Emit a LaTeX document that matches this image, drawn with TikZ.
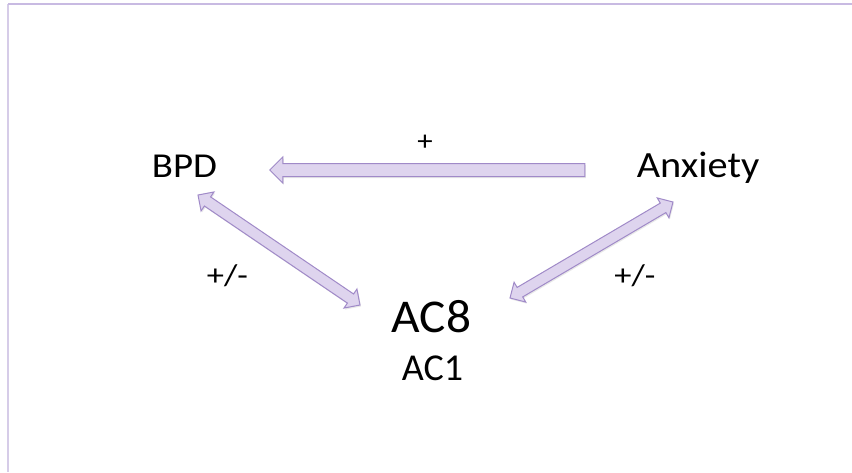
\documentclass[tikz,border=0pt]{standalone}
\usepackage{fontspec}
\setmainfont{Carlito}
\usetikzlibrary{shapes.arrows,calc,shadows}
\definecolor{arrowfill}{RGB}{222,212,238}
\definecolor{arrowline}{RGB}{160,138,200}
\definecolor{frametop}{RGB}{200,186,226}
\definecolor{frameleft}{RGB}{214,204,232}
\tikzset{
  lbl/.style={anchor=base, inner sep=0pt, text=black},
  arrowbase/.style={draw=arrowline, fill=arrowfill, line width=1pt, inner xsep=0pt,
    drop shadow={opacity=0.18, shadow xshift=1pt, shadow yshift=-1.5pt}},
  onearrow/.style={arrowbase, single arrow, inner ysep=6pt, single arrow head extend=6.5pt},
  twoarrow/.style={arrowbase, double arrow, inner ysep=5pt, double arrow head extend=6pt},
}
\begin{document}
\begin{tikzpicture}[x=1pt,y=-1pt]
\useasboundingbox (0,0) rectangle (852,472);
\fill[white] (0,0) rectangle (852,472);
\draw[frameleft, line width=1.3pt] (8,4) -- (8,472);
\draw[frametop, line width=1.5pt] (8,4) -- (852,4);

\node[lbl, font=\fontsize{35}{40}\selectfont] (bpd) at (184.5,177) {\scalebox{1.11}[1]{BPD}};
\node[lbl, font=\fontsize{37}{42}\selectfont] (anx) at (698,177) {\scalebox{1.09}[1]{Anxiety}};
\node[lbl, font=\fontsize{47}{52}\selectfont] (ac8) at (431.5,332) {\scalebox{1.05}[1]{AC8}};
\node[lbl, font=\fontsize{38}{42}\selectfont] (ac1) at (432.5,380) {AC1};
\node[lbl, font=\fontsize{28}{32}\selectfont] (plus) at (425,150) {\scalebox{1.1}[1]{+}};
\node[lbl, font=\fontsize{30}{34}\selectfont] (pmL) at (227.5,285) {\scalebox{1.15}[1]{+/-}};
\node[lbl, font=\fontsize{30}{34}\selectfont] (pmR) at (635,285) {\scalebox{1.15}[1]{+/-}};

\coordinate (hA) at (588,170);
\coordinate (hB) at (273,170);
\coordinate (lA) at (198,195);
\coordinate (lB) at (360,305);
\coordinate (rA) at (510,298);
\coordinate (rB) at (673,202);

\path let \p1=($(hB)-(hA)$), \n1={atan2(\y1,\x1)}, \n2={veclen(\x1,\y1)} in
  node[onearrow, minimum height=\n2, rotate=\n1] (arrH) at ($(hA)!0.5!(hB)$) {};
\path let \p1=($(lB)-(lA)$), \n1={atan2(\y1,\x1)}, \n2={veclen(\x1,\y1)} in
  node[twoarrow, minimum height=\n2, rotate=\n1] (arrL) at ($(lA)!0.5!(lB)$) {};
\path let \p1=($(rB)-(rA)$), \n1={atan2(\y1,\x1)}, \n2={veclen(\x1,\y1)} in
  node[twoarrow, minimum height=\n2, rotate=\n1] (arrR) at ($(rA)!0.5!(rB)$) {};
\end{tikzpicture}
\end{document}
